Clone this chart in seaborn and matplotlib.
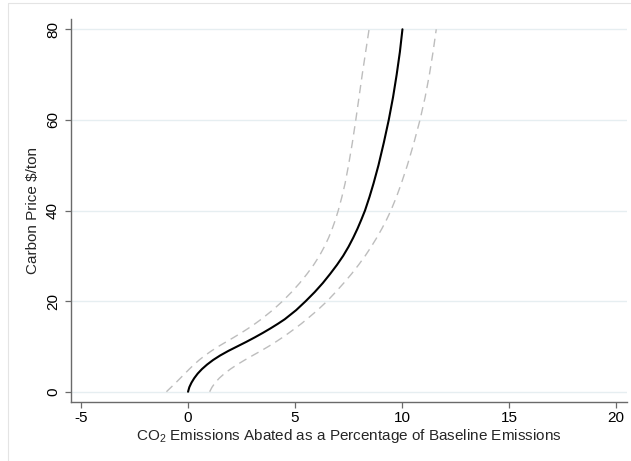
import matplotlib
matplotlib.use("Agg")
import matplotlib.pyplot as plt
import seaborn as sns
import pandas as pd
from matplotlib.lines import Line2D

# ---- data ----
price = [0, 1, 2, 3, 4, 5, 6, 7, 8, 9, 10, 11, 12, 13, 14, 15, 16, 18, 20,
         22, 24, 26, 28, 30, 32, 34, 36, 38, 40, 43, 46, 50, 55, 60, 65, 70, 75, 80]
abated = [0.00, 0.06, 0.16, 0.29, 0.45, 0.65, 0.89, 1.17, 1.50, 1.88, 2.30,
          2.72, 3.12, 3.50, 3.86, 4.20, 4.52, 5.05, 5.50,
          5.92, 6.30, 6.64, 6.96, 7.25, 7.50, 7.72, 7.92, 8.10, 8.27, 8.48, 8.67,
          8.90, 9.15, 9.38, 9.58, 9.75, 9.90, 10.02]
lower = [-1.01, -0.79, -0.57, -0.36, -0.15, 0.06, 0.28, 0.52, 0.79, 1.09, 1.42,
         1.78, 2.14, 2.49, 2.82, 3.13, 3.42, 3.95, 4.42,
         4.84, 5.22, 5.56, 5.87, 6.14, 6.37, 6.57, 6.74, 6.89, 7.02, 7.19, 7.34,
         7.50, 7.68, 7.84, 7.99, 8.14, 8.30, 8.46]
upper = [1.01, 1.12, 1.27, 1.46, 1.70, 1.98, 2.30, 2.65, 3.02, 3.40, 3.76,
         4.10, 4.42, 4.72, 5.01, 5.29, 5.55, 6.05, 6.50,
         6.90, 7.28, 7.64, 7.97, 8.28, 8.56, 8.82, 9.06, 9.28, 9.48, 9.74, 9.97,
         10.25, 10.56, 10.84, 11.08, 11.28, 11.45, 11.60]

xticks = [-5, 0, 5, 10, 15, 20]
yticks = [0, 20, 40, 60, 80]

df = pd.DataFrame({"price": price, "abated": abated, "lower": lower, "upper": upper})

sns.set_style("white")
plt.rcParams["font.family"] = ["Liberation Sans", "DejaVu Sans"]
plt.rcParams["mathtext.fontset"] = "custom"
plt.rcParams["mathtext.rm"] = "Liberation Sans"
plt.rcParams["axes.unicode_minus"] = False

fig = plt.figure(figsize=(6.31, 4.61), dpi=100)
ax = fig.add_axes([71 / 631, 1 - 401.7 / 461, (626.7 - 71) / 631, (401.7 - 19.3) / 461])

grid_c = "#e6eef1"
for yv in yticks:
    ax.axhline(yv, color=grid_c, lw=1.0, zorder=0)

dash_c = "#bdbdbd"
sns.lineplot(data=df, x="lower", y="price", sort=False, estimator=None, ax=ax,
             color=dash_c, lw=1.0, linestyle=(0, (6, 4)))
sns.lineplot(data=df, x="upper", y="price", sort=False, estimator=None, ax=ax,
             color=dash_c, lw=1.0, linestyle=(0, (6, 4)))
sns.lineplot(data=df, x="abated", y="price", sort=False, estimator=None, ax=ax,
             color="black", lw=1.5)

ax.set_xlim(-5.47, 20.5)
ax.set_ylim(-2.2, 82.2)
ax.set_xticks(xticks)
ax.set_yticks(yticks)
ax.set_yticklabels([str(v) for v in yticks], rotation=90, va="center")

for s in ["top", "right"]:
    ax.spines[s].set_visible(False)
for s in ["left", "bottom"]:
    ax.spines[s].set_color("#6a6a6a")
    ax.spines[s].set_linewidth(1.0)

ax.tick_params(axis="both", direction="out", length=4, width=0.9, color="#6a6a6a",
               labelsize=11, labelcolor="black", bottom=True, left=True)
ax.tick_params(axis="x", pad=3)
ax.tick_params(axis="y", pad=4)

ax.set_xlabel(r"CO$_\mathregular{2}$ Emissions Abated as a Percentage of Baseline Emissions",
              fontsize=11, labelpad=1)
ax.set_ylabel(r"Carbon Price \$/ton", fontsize=11, labelpad=4)

# light outer frame of the graph region
frame_c = "#e4e4e4"
fig.add_artist(Line2D([8 / 631, 8 / 631], [0, 1 - 3 / 461], transform=fig.transFigure,
                      color=frame_c, lw=0.8))
fig.add_artist(Line2D([8 / 631, 1], [1 - 3 / 461, 1 - 3 / 461], transform=fig.transFigure,
                      color=frame_c, lw=0.8))

fig.savefig("out.png", dpi=100)
